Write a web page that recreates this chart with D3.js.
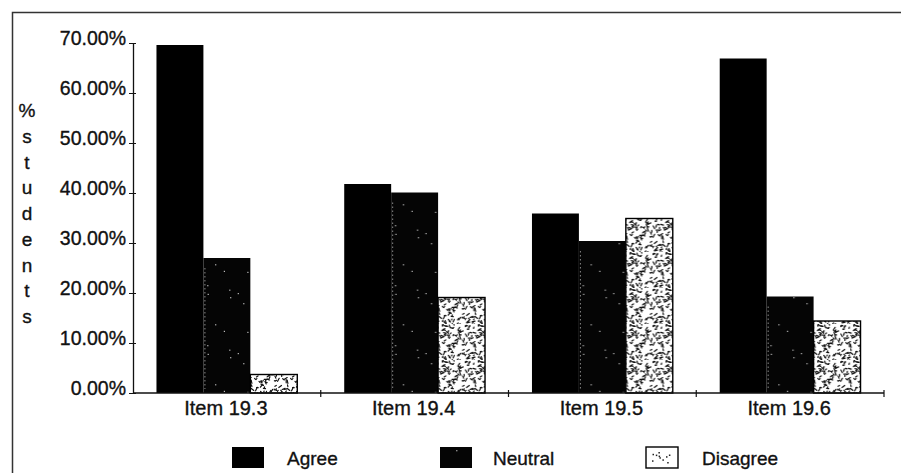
<!DOCTYPE html>
<html>
<head>
<meta charset="utf-8">
<script src="https://cdn.jsdelivr.net/npm/d3@7"></script>
<style>
  html, body { margin: 0; padding: 0; background: #fff; }
  svg text { font-family: "Liberation Sans", Arial, sans-serif; fill: #111; stroke: #111; stroke-width: 0.35px; }
</style>
</head>
<body>
<svg id="chart" width="901" height="473"></svg>
<script>
// Share of students per response, by questionnaire item (%)
const categories = ["Item 19.3", "Item 19.4", "Item 19.5", "Item 19.6"];
const seriesNames = ["Agree", "Neutral", "Disagree"];
const agree    = [69.6, 41.8, 35.9, 66.9];
const neutral  = [27.0, 40.1, 30.4, 19.3];
const disagree = [3.7, 19.1, 34.9, 14.4];
const yTicks = [0, 10, 20, 30, 40, 50, 60, 70];
const axisTitle = ["%", "s", "t", "u", "d", "e", "n", "t", "s"];

const seriesValues = [agree, neutral, disagree];
const rows = categories.map((c, i) => ({
  category: c,
  values: seriesNames.map((s, j) => ({ series: s, value: seriesValues[j][i] }))
}));

const svg = d3.select("#chart");
const W = 901, H = 473;
const plot = { left: 133, right: 884, top: 43, bottom: 393 };

// Deterministic generator for the stipple textures
function lcg(seed) {
  let s = seed >>> 0;
  return () => { s = (s * 1664525 + 1013904223) >>> 0; return s / 4294967296; };
}

const defs = svg.append("defs");

// Neutral: black with sparse light specks
{
  const rnd = lcg(7);
  const p = defs.append("pattern").attr("id", "pat-neutral")
    .attr("patternUnits", "userSpaceOnUse").attr("width", 47).attr("height", 60);
  p.append("rect").attr("width", 47).attr("height", 60).attr("fill", "#050505");
  for (let i = 0; i < 9; i++) {
    p.append("rect")
      .attr("x", (rnd() * 45).toFixed(1)).attr("y", (rnd() * 58).toFixed(1))
      .attr("width", 1.2).attr("height", 1.2).attr("fill", "#bbb");
  }
}

// Disagree: white with dense black speckle
{
  const rnd = lcg(42);
  const p = defs.append("pattern").attr("id", "pat-disagree")
    .attr("patternUnits", "userSpaceOnUse").attr("width", 36).attr("height", 36);
  p.append("rect").attr("width", 36).attr("height", 36).attr("fill", "#fff");
  for (let i = 0; i < 115; i++) {
    const x = rnd() * 36, y = rnd() * 36;
    const a = rnd() * Math.PI, len = 0.8 + rnd() * 2.6;
    p.append("line")
      .attr("x1", x.toFixed(1)).attr("y1", y.toFixed(1))
      .attr("x2", (x + Math.cos(a) * len).toFixed(1)).attr("y2", (y + Math.sin(a) * len).toFixed(1))
      .attr("stroke", "#111").attr("stroke-width", 1.2).attr("stroke-linecap", "round");
  }
}

// Legend swatch for Disagree: lighter stipple
{
  const rnd = lcg(11);
  const p = defs.append("pattern").attr("id", "pat-disagree-key")
    .attr("patternUnits", "userSpaceOnUse").attr("width", 32).attr("height", 21);
  p.append("rect").attr("width", 32).attr("height", 21).attr("fill", "#fff");
  for (let i = 0; i < 10; i++) {
    p.append("rect")
      .attr("x", (4 + rnd() * 24).toFixed(1)).attr("y", (4 + rnd() * 13).toFixed(1))
      .attr("width", 1.5).attr("height", 1.5).attr("fill", "#222");
  }
}

const fills = { Agree: "#000", Neutral: "url(#pat-neutral)", Disagree: "url(#pat-disagree)" };
const keyFills = { Agree: "#000", Neutral: "url(#pat-neutral)", Disagree: "url(#pat-disagree-key)" };

// Outer frame (top and left edges)
svg.append("path")
  .attr("d", `M12.5,${H} V12.5 H${W}`)
  .attr("fill", "none").attr("stroke", "#333").attr("stroke-width", 1.5);

// Scales
const x0 = d3.scaleBand().domain(categories).range([plot.left, plot.right]).padding(0);
const x1 = d3.scaleBand().domain(seriesNames).range([0, x0.bandwidth()])
  .paddingInner(0).paddingOuter(0.5);
const y = d3.scaleLinear().domain([0, 70]).range([plot.bottom, plot.top]);

// Bars
const groups = svg.append("g").selectAll("g").data(rows).join("g")
  .attr("transform", d => `translate(${x0(d.category)},0)`);

groups.selectAll("rect").data(d => d.values).join("rect")
  .attr("x", d => x1(d.series))
  .attr("y", d => y(d.value))
  .attr("width", x1.bandwidth())
  .attr("height", d => y(0) - y(d.value))
  .attr("fill", d => fills[d.series])
  .attr("stroke", "#000")
  .attr("stroke-width", d => d.series === "Disagree" ? 1.4 : 0);

// faint seam at the left edge of each Neutral bar
groups.selectAll("line.seam").data(d => d.values.filter(v => v.series === "Neutral")).join("line")
  .attr("class", "seam")
  .attr("x1", d => x1(d.series) + 1.5).attr("x2", d => x1(d.series) + 1.5)
  .attr("y1", d => y(d.value) + 10).attr("y2", y(0) - 4)
  .attr("stroke", "#aaa").attr("stroke-width", 0.8).attr("stroke-dasharray", "1.5,2.5");

// Y axis
const yAxis = d3.axisLeft(y).tickValues(yTicks)
  .tickFormat(d => d.toFixed(2) + "%").tickSizeInner(4).tickSizeOuter(0).tickPadding(3);
const gy = svg.append("g").attr("transform", `translate(${plot.left},0)`).call(yAxis);
gy.select(".domain").attr("stroke", "#111").attr("stroke-width", 1.3);
gy.selectAll(".tick line").attr("stroke", "#111").attr("x2", -4).attr("x1", 3);
gy.selectAll(".tick text")
  .attr("font-size", 19.5).attr("dy", "0.1em").attr("x", -7)
  .style("font-family", "'Liberation Sans', Arial, sans-serif").attr("fill", "#111");

// X axis with ticks at category boundaries
const gx = svg.append("g").attr("transform", `translate(0,${plot.bottom})`);
gx.append("line").attr("x1", plot.left).attr("x2", plot.right)
  .attr("stroke", "#111").attr("stroke-width", 1.3);
const bounds = categories.map(c => x0(c) + x0.bandwidth());
gx.selectAll("line.tk").data(bounds).join("line").attr("class", "tk")
  .attr("x1", d => d).attr("x2", d => d).attr("y1", -3).attr("y2", 4)
  .attr("stroke", "#111").attr("stroke-width", 1.2);
gx.selectAll("text").data(categories).join("text")
  .attr("x", d => x0(d) + x0.bandwidth() / 2 - 1)
  .attr("y", 22)
  .attr("text-anchor", "middle")
  .attr("font-size", 20)
  .text(d => d);

// Vertical axis title, one character per line
svg.append("g").selectAll("text").data(axisTitle).join("text")
  .attr("x", 27).attr("y", (d, i) => 117 + i * 25.75)
  .attr("text-anchor", "middle").attr("font-size", 19)
  .text(d => d);

// Legend
const legendX = [232, 440, 646];
const legend = svg.append("g").selectAll("g").data(seriesNames).join("g")
  .attr("transform", (d, i) => `translate(${legendX[i]},447)`);
legend.append("rect")
  .attr("width", 32).attr("height", 21)
  .attr("fill", d => keyFills[d])
  .attr("stroke", "#000").attr("stroke-width", d => d === "Disagree" ? 1.4 : 0);
legend.append("text")
  .attr("x", (d, i) => [55, 53, 56][i]).attr("y", 18)
  .attr("font-size", 19)
  .text(d => d);
</script>
</body>
</html>
